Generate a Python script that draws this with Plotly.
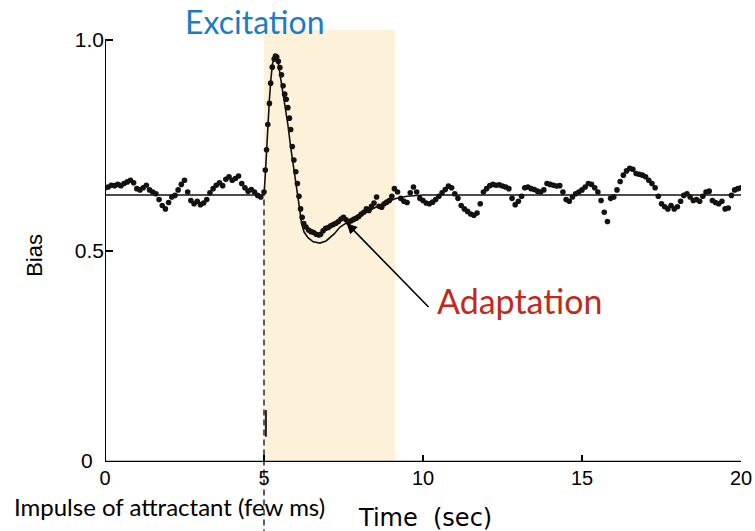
import plotly.graph_objects as go

# --- measured bias before the stimulus (t = 0.0 .. 4.9 s, every 0.1 s) ---
pre_t0, pre_dt = 0.0, 0.1
pre_bias = [
    0.650, 0.652, 0.656, 0.655, 0.658, 0.655, 0.660, 0.664, 0.668, 0.662,
    0.648, 0.645, 0.650, 0.656, 0.645, 0.640, 0.636, 0.622, 0.608, 0.600,
    0.615, 0.628, 0.632, 0.645, 0.658, 0.668, 0.640, 0.620, 0.612, 0.618,
    0.610, 0.614, 0.622, 0.638, 0.648, 0.656, 0.662, 0.655, 0.670, 0.676,
    0.668, 0.672, 0.678, 0.660, 0.650, 0.642, 0.646, 0.640, 0.632, 0.628,
]

# --- response to the impulse (finer sampling) ---
resp_t = [
    5.00, 5.04, 5.08, 5.12, 5.17, 5.21, 5.26, 5.32, 5.36, 5.40,
    5.45, 5.50, 5.55, 5.60, 5.65, 5.70, 5.75, 5.80, 5.84, 5.89,
    5.94, 6.00, 6.05, 6.10, 6.15, 6.20, 6.25, 6.32, 6.40, 6.48,
    6.56, 6.64, 6.72, 6.78, 6.86, 6.94, 7.02, 7.10, 7.18, 7.26,
    7.34, 7.42, 7.50, 7.58, 7.66, 7.74, 7.82, 7.90, 7.98, 8.06,
    8.14, 8.22, 8.30, 8.38, 8.46, 8.54, 8.62, 8.70, 8.78, 8.86,
    8.94, 9.02, 9.10,
]
resp_bias = [
    0.640, 0.692, 0.740, 0.800, 0.850, 0.898, 0.936, 0.955, 0.962, 0.960,
    0.950, 0.935, 0.918, 0.892, 0.872, 0.860, 0.840, 0.815, 0.788, 0.748,
    0.716, 0.688, 0.660, 0.630, 0.600, 0.580, 0.565, 0.557, 0.550, 0.546,
    0.544, 0.540, 0.538, 0.540, 0.548, 0.554, 0.556, 0.560, 0.563, 0.566,
    0.570, 0.576, 0.580, 0.574, 0.568, 0.572, 0.575, 0.578, 0.582, 0.588,
    0.592, 0.600, 0.596, 0.606, 0.614, 0.628, 0.606, 0.604, 0.612, 0.616,
    0.620, 0.630, 0.648,
]

# --- measured bias after the response (t = 9.2 .. 20.0 s, every 0.1 s) ---
post_t0, post_dt = 9.2, 0.1
post_bias = [
    0.640, 0.625, 0.618, 0.615, 0.638, 0.652, 0.640, 0.625, 0.620, 0.614,
    0.612, 0.616, 0.622, 0.630, 0.638, 0.646, 0.654, 0.650, 0.636, 0.625,
    0.608, 0.600, 0.594, 0.588, 0.585, 0.590, 0.612, 0.640, 0.648, 0.655,
    0.658, 0.656, 0.657, 0.654, 0.652, 0.648, 0.625, 0.610, 0.618, 0.630,
    0.650, 0.652, 0.648, 0.646, 0.642, 0.640, 0.645, 0.660, 0.658, 0.656,
    0.654, 0.655, 0.640, 0.622, 0.618, 0.628, 0.636, 0.640, 0.645, 0.652,
    0.660, 0.658, 0.650, 0.640, 0.620, 0.592, 0.570, 0.625, 0.628, 0.645,
    0.665, 0.680, 0.690, 0.696, 0.694, 0.684, 0.682, 0.680, 0.676, 0.668,
    0.660, 0.650, 0.630, 0.612, 0.605, 0.600, 0.608, 0.600, 0.605, 0.618,
    0.632, 0.636, 0.628, 0.620, 0.622, 0.618, 0.630, 0.640, 0.642, 0.620,
    0.615, 0.612, 0.618, 0.600, 0.602, 0.632, 0.645, 0.648, 0.650,
]

# --- model fit: steady baseline plus impulse response ---
baseline = 0.633
fit_t = [0.0, 5.0, 5.04, 5.08, 5.12, 5.17, 5.22, 5.27, 5.33, 5.38,
         5.45, 5.55, 5.65, 5.75, 5.84, 5.95, 6.05, 6.12, 6.18, 6.26,
         6.39, 6.55, 6.76, 6.95, 7.2, 7.39, 7.7, 8.02, 8.35, 8.65,
         9.12, 9.5, 10.0, 20.0]
fit_bias = [baseline, baseline, 0.680, 0.740, 0.800, 0.860, 0.910, 0.945, 0.958, 0.957,
            0.945, 0.900, 0.850, 0.800, 0.746, 0.690, 0.645, 0.600, 0.566, 0.545,
            0.531, 0.522, 0.519, 0.524, 0.540, 0.557, 0.572, 0.585, 0.598, 0.609,
            0.624, 0.630, baseline, baseline]

x_ticks = [0, 5, 10, 15, 20]
y_ticks = [0, 0.5, 1.0]
y_tick_text = ["", "0.5", "1.0"]   # the origin "0" is placed separately, set off to the left
y_origin_label = "0"

stim_time = 5.0           # impulse delivered
window_end = 9.12         # end of highlighted excitation window
y_top = 1.024

pre_t = [round(pre_t0 + pre_dt * i, 2) for i in range(len(pre_bias))]
post_t = [round(post_t0 + post_dt * i, 2) for i in range(len(post_bias))]
data_t = pre_t + resp_t + post_t
data_bias = pre_bias + resp_bias + post_bias

fig = go.Figure()

fig.add_trace(go.Scatter(
    x=fit_t, y=fit_bias, mode="lines",
    line=dict(color="#111111", width=1.6), hoverinfo="skip", showlegend=False,
))
fig.add_trace(go.Scatter(
    x=data_t, y=data_bias, mode="markers",
    marker=dict(color="#141210", size=5.6, line=dict(width=0)),
    showlegend=False,
))

shapes = [
    # excitation window
    dict(type="rect", xref="x", yref="y", x0=stim_time, x1=window_end, y0=0, y1=y_top,
         fillcolor="#FDF2D9", line=dict(width=0), layer="below"),
    # axes
    dict(type="line", xref="x", yref="y", x0=0, x1=0, y0=0, y1=1.0,
         line=dict(color="black", width=2)),
    dict(type="line", xref="x", yref="y", x0=0, x1=20, y0=0, y1=0,
         line=dict(color="black", width=2.5)),
    # stimulus time marker
    dict(type="line", xref="x", yref="paper", x0=stim_time, x1=stim_time,
         y0=-0.17, y1=baseline / y_top,
         line=dict(color="#1a1a1a", width=1.4, dash="6px,4px")),
    dict(type="line", xref="x", yref="y", x0=5.06, x1=5.06, y0=0.06, y1=0.123,
         line=dict(color="#222222", width=2)),
]

annotations = [
    dict(text="Excitation", xref="x", yref="paper", x=4.72, y=1.019,
         showarrow=False, font=dict(family="Lato", size=32, color="#1C7DC1"),
         xanchor="center", yanchor="middle"),
    dict(text="Adaptation", xref="x", yref="y", x=10.38, y=0.384,
         showarrow=False, font=dict(family="Lato", size=34, color="#BE2B1B"),
         xanchor="left", yanchor="middle"),
    dict(text="", xref="x", yref="y", x=7.6, y=0.566, axref="x", ayref="y",
         ax=10.22, ay=0.364, showarrow=True, arrowhead=2, arrowsize=1.3,
         arrowwidth=1.6, arrowcolor="black"),
    dict(text="Impulse of attractant (few ms)", xref="paper", yref="paper",
         x=-0.146, y=-0.102, showarrow=False,
         font=dict(family="Lato", size=24, color="black"),
         xanchor="left", yanchor="middle"),
    dict(text="Time\u00a0\u00a0(sec)", xref="paper", yref="paper", x=0.394, y=-0.13,
         showarrow=False, font=dict(family="DejaVu Sans", size=24, color="black"),
         xanchor="left", yanchor="middle"),
    dict(text="Bias", xref="paper", yref="paper", x=-0.112, y=0.479,
         showarrow=False, textangle=-90,
         font=dict(family="Liberation Sans", size=22, color="black"),
         xanchor="center", yanchor="middle"),
    dict(text=y_origin_label, xref="paper", yref="y", x=-0.016, y=0.004,
         showarrow=False, font=dict(family="Liberation Sans", size=21, color="black"),
         xanchor="right", yanchor="middle"),
]

fig.update_layout(
    width=755, height=531,
    margin=dict(l=105, r=14, t=30, b=69, autoexpand=False),
    paper_bgcolor="white", plot_bgcolor="white",
    shapes=shapes, annotations=annotations,
    font=dict(family="Liberation Sans", color="black"),
)
fig.update_xaxes(
    range=[0, 20], tickvals=x_ticks, ticks="inside", ticklen=7, tickwidth=2,
    tickcolor="black", showgrid=False, zeroline=False, showline=False,
    automargin=False, ticklabelstandoff=2,
    tickfont=dict(family="Liberation Sans", size=20, color="black"),
)
fig.update_yaxes(
    range=[0, y_top], tickvals=y_ticks, ticktext=y_tick_text, ticks="inside",
    ticklen=8, tickwidth=2, tickcolor="black", showgrid=False, zeroline=False,
    showline=False, automargin=False,
    tickfont=dict(family="Liberation Sans", size=21, color="black"),
)

fig.write_html("out.html")
